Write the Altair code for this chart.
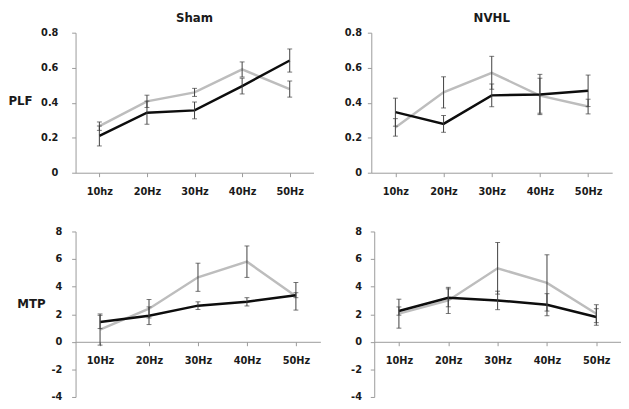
import altair as alt
import pandas as pd

# ---------------- data ----------------
cats_top = ["10hz", "20Hz", "30Hz", "40Hz", "50Hz"]
cats_bottom = ["10Hz", "20Hz", "30Hz", "40Hz", "50Hz"]

# Sham / PLF
sham_plf_black = [0.21, 0.343, 0.356, 0.495, 0.641]
sham_plf_black_err = [0.057, 0.066, 0.048, 0.045, 0.066]
sham_plf_gray = [0.266, 0.408, 0.459, 0.590, 0.478]
sham_plf_gray_err = [0.024, 0.035, 0.023, 0.043, 0.046]

# NVHL / PLF
nvhl_plf_black = [0.346, 0.279, 0.442, 0.447, 0.468]
nvhl_plf_black_err = [0.08, 0.048, 0.065, 0.115, 0.09]
nvhl_plf_gray = [0.259, 0.459, 0.571, 0.44, 0.378]
nvhl_plf_gray_err = [0.05, 0.089, 0.094, 0.10, 0.042]

# Sham / MTP
sham_mtp_black = [1.44, 1.89, 2.62, 2.9, 3.38]
sham_mtp_black_err = [0.48, 0.64, 0.28, 0.3, 0.18]
sham_mtp_gray = [0.89, 2.4, 4.68, 5.81, 3.3]
sham_mtp_gray_err = [1.13, 0.67, 1.02, 1.14, 1.0]

# NVHL / MTP
nvhl_mtp_black = [2.23, 3.19, 3.0, 2.69, 1.8]
nvhl_mtp_black_err = [0.3, 0.65, 0.67, 0.8, 0.6]
nvhl_mtp_gray = [2.04, 3.0, 5.33, 4.27, 2.04]
nvhl_mtp_gray_err = [1.05, 0.95, 1.87, 2.04, 0.65]

plf_ticks = [0, 0.2, 0.4, 0.6, 0.8]
mtp_ticks = [-4, -2, 0, 2, 4, 6, 8]

FONT = "DejaVu Sans"
TEXT = "#1a1a1a"
AXIS = "#9a9a9a"
BLACK = "#0d0d0d"
GRAY = "#bdbdbd"
ERR = "#3c3c3c"


def frame(cats, black, black_err, gray, gray_err):
    rows = []
    for s, m, e in (("Gray", gray, gray_err), ("Black", black, black_err)):
        for c, v, d in zip(cats, m, e):
            rows.append({"cat": c, "series": s, "mean": v, "lo": v - d, "hi": v + d})
    return pd.DataFrame(rows)


def panel(df, cats, domain, ticks, width, height, title, ytitle, title_x, title_y,
          ylabel_pad, x_offset):
    xaxis = alt.Axis(
        title=None, labelAngle=0, labelFont=FONT, labelFontSize=10,
        labelFontWeight="bold", labelColor=TEXT, labelPadding=10,
        tickSize=4, tickColor=AXIS, domainColor=AXIS, grid=False,
        offset=x_offset, labelOverlap=False,
    )
    xenc = alt.X("cat:N", sort=cats, scale=alt.Scale(type="point", padding=0.5),
                 axis=xaxis)
    yaxis_kwargs = dict(
        values=ticks, labelFont=FONT, labelFontSize=10, labelFontWeight="bold",
        labelColor=TEXT, labelPadding=ylabel_pad, tickSize=4, tickColor=AXIS,
        domainColor=AXIS, grid=False, labelExpr="'' + datum.value",
        labelOverlap=False,
    )
    if ytitle:
        yaxis_kwargs.update(
            title=ytitle, titleAngle=0, titleX=title_x, titleY=title_y,
            titleAlign="left", titleBaseline="middle", titleFont=FONT,
            titleFontSize=12, titleFontWeight="bold", titleColor=TEXT,
        )
    else:
        yaxis_kwargs.update(title=None)
    yscale = alt.Scale(domain=domain, nice=False, zero=False)

    def yenc(field):
        return alt.Y(field, scale=yscale, axis=alt.Axis(**yaxis_kwargs))

    base = alt.Chart(df)
    gray_line = base.transform_filter(alt.datum.series == "Gray").mark_line(
        color=GRAY, strokeWidth=2.5).encode(x=xenc, y=yenc("mean:Q"))
    black_line = base.transform_filter(alt.datum.series == "Black").mark_line(
        color=BLACK, strokeWidth=2.5).encode(x=xenc, y=yenc("mean:Q"))
    rule = base.mark_rule(color=ERR, strokeWidth=1).encode(
        x=xenc, y=yenc("lo:Q"), y2="hi:Q")
    cap_lo = base.mark_tick(color=ERR, size=5, thickness=1).encode(
        x=xenc, y=yenc("lo:Q"))
    cap_hi = base.mark_tick(color=ERR, size=5, thickness=1).encode(
        x=xenc, y=yenc("hi:Q"))

    layer = alt.layer(gray_line, black_line, rule, cap_lo, cap_hi).properties(
        width=width, height=height)
    if title:
        layer = layer.properties(title=alt.TitleParams(
            text=title, font=FONT, fontSize=12, fontWeight="bold", color=TEXT,
            anchor="middle", offset=3))
    return layer


tl = panel(frame(cats_top, sham_plf_black, sham_plf_black_err, sham_plf_gray, sham_plf_gray_err),
           cats_top, [0, 0.8], plf_ticks, 243, 143, "Sham", "PLF", -69, 69, 14, 0)
tr = panel(frame(cats_top, nvhl_plf_black, nvhl_plf_black_err, nvhl_plf_gray, nvhl_plf_gray_err),
           cats_top, [0, 0.8], plf_ticks, 246, 143, "NVHL", None, 0, 0, 6, 0)
bl = panel(frame(cats_bottom, sham_mtp_black, sham_mtp_black_err, sham_mtp_gray, sham_mtp_gray_err),
           cats_bottom, [-4, 8], mtp_ticks, 250, 169, None, "MTP", -60, 74, 10, -56.33)
br = panel(frame(cats_bottom, nvhl_mtp_black, nvhl_mtp_black_err, nvhl_mtp_gray, nvhl_mtp_gray_err),
           cats_bottom, [-4, 8], mtp_ticks, 252, 169, None, None, 0, 0, 9, -56.33)

row1 = alt.hconcat(tl, tr, spacing=31, bounds="full")
row2 = alt.hconcat(bl, br, spacing=30, bounds="full")

chart = alt.vconcat(row1, row2, spacing=31, bounds="full").properties(
    padding=0, background="white"
).configure_view(strokeWidth=0)

chart.save("out.html", embed_options={"renderer": "svg", "actions": False})
